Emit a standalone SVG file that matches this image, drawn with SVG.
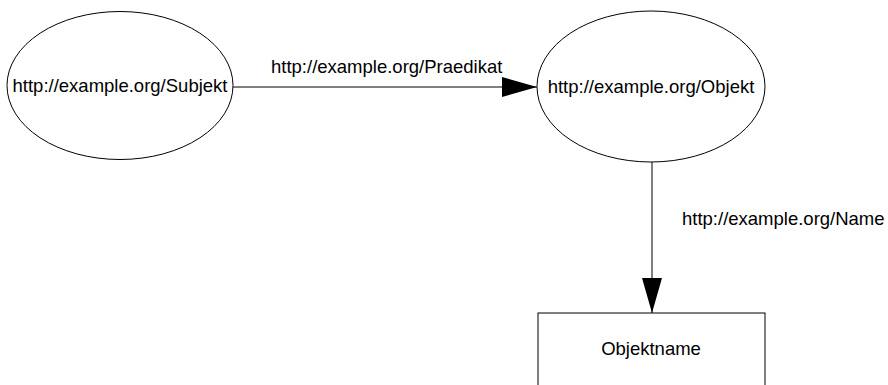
<svg xmlns="http://www.w3.org/2000/svg" width="888" height="385" viewBox="0 0 888 385">
<defs>
<style>
.shape{fill:#fff;stroke:#000;stroke-width:1}
.edge{fill:none;stroke:#000;stroke-width:1}
text{font-family:"Liberation Sans",Arial,sans-serif;font-size:18.5px;fill:#000}
</style>
<marker id="arr" markerUnits="userSpaceOnUse" markerWidth="36" markerHeight="22" refX="35" refY="10" orient="auto">
<path d="M0,0 L35,10 L0,20 Z" fill="#000"/>
</marker>
</defs>
<rect width="888" height="385" fill="#fff"/>
<g id="connectors">
<line class="edge" x1="233" y1="87" x2="537" y2="87" marker-end="url(#arr)"/>
<text x="271" y="73">http://example.org/Praedikat</text>
<line class="edge" x1="652" y1="162" x2="652" y2="313" marker-end="url(#arr)"/>
<text x="682" y="225">http://example.org/Name</text>
</g>
<g id="subjekt">
<ellipse class="shape" cx="120" cy="85.5" rx="113" ry="74"/>
<text x="120" y="92" text-anchor="middle">http://example.org/Subjekt</text>
</g>
<g id="objekt">
<ellipse class="shape" cx="651" cy="86.5" rx="114" ry="75.5"/>
<text x="651" y="93" text-anchor="middle">http://example.org/Objekt</text>
</g>
<g id="objektname">
<rect class="shape" x="538" y="313" width="227" height="90"/>
<text x="651" y="355" text-anchor="middle">Objektname</text>
</g>
</svg>
